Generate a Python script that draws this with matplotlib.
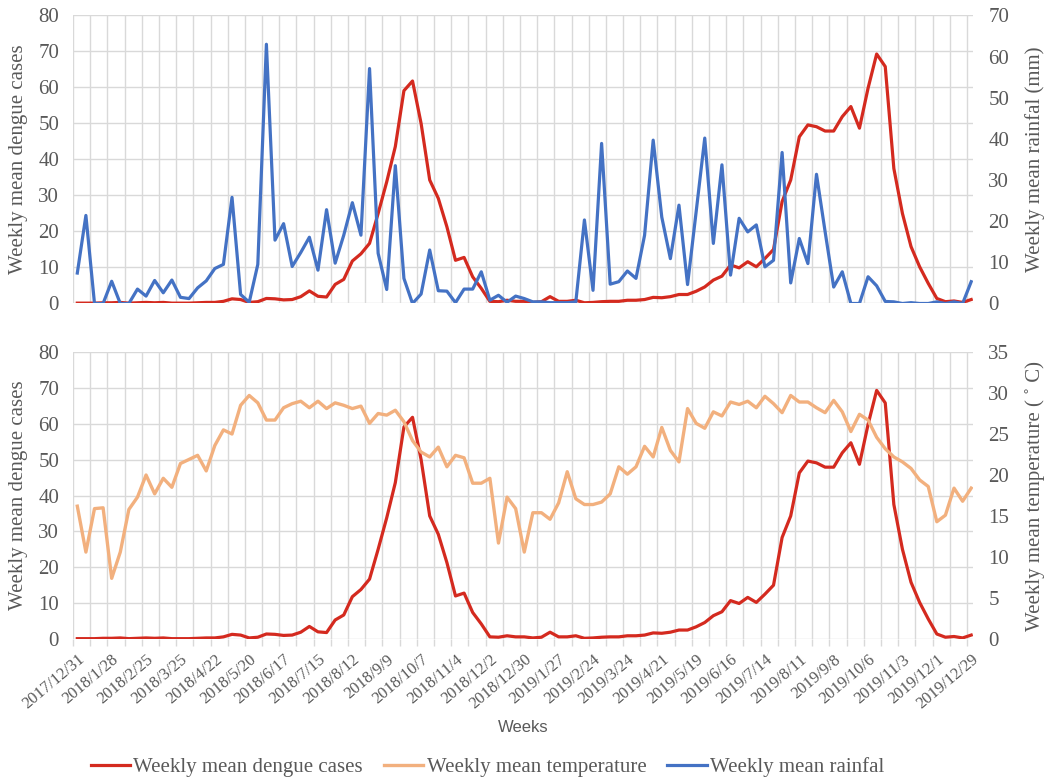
import numpy as np
import pandas as pd
import matplotlib
matplotlib.use("Agg")
import matplotlib.pyplot as plt

# weekly data, 2017/12/31 - 2019/12/29 (105 weeks)
dengue_cases = [
    0.1, 0.1, 0.1, 0.2, 0.2, 0.3, 0.1, 0.2, 0.3, 0.2,
    0.3, 0.1, 0.1, 0.1, 0.2, 0.3, 0.3, 0.6, 1.3, 1.1,
    0.3, 0.5, 1.4, 1.3, 1.0, 1.1, 1.9, 3.5, 2.0, 1.8,
    5.3, 6.7, 11.8, 13.8, 16.7, 25.0, 33.8, 43.6, 59.1, 61.8,
    50.0, 34.3, 29.2, 21.3, 12.0, 12.8, 7.4, 4.2, 0.6, 0.5,
    0.9, 0.6, 0.6, 0.3, 0.5, 1.9, 0.6, 0.6, 0.9, 0.2,
    0.3, 0.5, 0.6, 0.6, 0.9, 0.9, 1.1, 1.7, 1.6, 1.9,
    2.5, 2.5, 3.4, 4.6, 6.5, 7.6, 10.7, 9.9, 11.6, 10.2,
    12.5, 15.0, 28.3, 34.3, 46.3, 49.6, 49.1, 47.9, 47.9, 51.9,
    54.7, 48.7, 59.8, 69.3, 65.8, 37.5, 25.0, 15.8, 10.2, 5.6,
    1.4, 0.5, 0.7, 0.3, 1.1,
]

rainfall_mm = [
    7.4, 21.4, 0.0, 0.0, 5.4, 0.0, 0.0, 3.5, 1.8, 5.6,
    2.6, 5.7, 1.5, 1.2, 3.8, 5.5, 8.5, 9.5, 25.8, 2.2,
    0.3, 9.5, 63.0, 15.4, 19.4, 9.0, 12.4, 16.1, 8.1, 22.8,
    9.8, 16.6, 24.5, 16.6, 57.1, 12.2, 3.4, 33.5, 6.1, 0.0,
    2.3, 13.0, 3.1, 3.0, 0.2, 3.5, 3.5, 7.7, 0.8, 2.0,
    0.3, 1.8, 1.2, 0.4, 0.4, 0.2, 0.2, 0.2, 0.4, 20.3,
    3.2, 38.9, 4.7, 5.3, 7.9, 6.1, 16.6, 39.7, 21.0, 10.9,
    23.9, 4.6, 22.3, 40.2, 14.6, 33.7, 6.9, 20.7, 17.4, 19.1,
    8.9, 10.5, 36.7, 5.0, 15.8, 9.7, 31.4, 17.5, 4.0, 7.7,
    0.0, 0.0, 6.5, 4.3, 0.5, 0.4, 0.0, 0.2, 0.0, 0.0,
    0.4, 0.0, 0.4, 0.0, 5.3,
]

temperature_c = [
    16.2, 10.6, 15.9, 16.0, 7.4, 10.6, 15.8, 17.3, 20.0, 17.7,
    19.6, 18.5, 21.4, 21.9, 22.4, 20.5, 23.6, 25.5, 25.0, 28.5,
    29.7, 28.8, 26.7, 26.7, 28.2, 28.7, 29.0, 28.2, 29.0, 28.1,
    28.8, 28.5, 28.1, 28.4, 26.3, 27.5, 27.3, 27.9, 26.5, 24.2,
    22.8, 22.2, 23.4, 21.0, 22.4, 22.1, 19.0, 19.0, 19.6, 11.7,
    17.3, 15.9, 10.6, 15.4, 15.4, 14.6, 16.6, 20.4, 17.1, 16.4,
    16.4, 16.7, 17.7, 21.0, 20.1, 21.0, 23.5, 22.2, 25.8, 23.0,
    21.6, 28.1, 26.3, 25.7, 27.7, 27.2, 28.9, 28.6, 29.0, 28.2,
    29.6, 28.7, 27.6, 29.7, 28.9, 28.9, 28.2, 27.6, 29.1, 27.7,
    25.3, 27.4, 26.7, 24.6, 23.2, 22.2, 21.6, 20.8, 19.4, 18.6,
    14.3, 15.1, 18.4, 16.8, 18.4,
]

tick_labels = [
    "2017/12/31", "2018/1/28", "2018/2/25", "2018/3/25", "2018/4/22",
    "2018/5/20", "2018/6/17", "2018/7/15", "2018/8/12", "2018/9/9",
    "2018/10/7", "2018/11/4", "2018/12/2", "2018/12/30", "2019/1/27",
    "2019/2/24", "2019/3/24", "2019/4/21", "2019/5/19", "2019/6/16",
    "2019/7/14", "2019/8/11", "2019/9/8", "2019/10/6", "2019/11/3",
    "2019/12/1", "2019/12/29",
]

RED = "#d42a1f"
ORANGE = "#f2b07e"
BLUE = "#4472c4"
GRID = "#d9d9d9"
TXT = "#595959"
SERIF = "Liberation Serif"

plt.rcParams["font.family"] = SERIF
plt.rcParams["font.size"] = 15

weeks = np.arange(len(dengue_cases))
tick_pos = np.arange(0, len(weeks), 4)
grid_pos = np.arange(-0.5, len(weeks), 2)

fig = plt.figure(figsize=(10.55, 7.81), dpi=100)
ax1 = fig.add_axes([0.0692, 0.6114, 0.853, 0.3688])
ax2 = fig.add_axes([0.0692, 0.1818, 0.853, 0.3675])


def style_axis(ax, show_labels):
    ax.set_xlim(-0.5, 104.2)
    ax.set_ylim(0, 80)
    ax.set_yticks(np.arange(0, 81, 10))
    ax.set_xticks(tick_pos)
    ax.set_xticks(grid_pos, minor=True)
    ax.grid(True, which="minor", axis="x", color=GRID, lw=1)
    ax.grid(True, which="major", axis="y", color=GRID, lw=1)
    ax.set_axisbelow(True)
    for s in ax.spines.values():
        s.set_visible(False)
    ax.tick_params(axis="y", length=0, pad=10, colors=TXT, labelsize=15)
    ax.tick_params(axis="x", which="major", length=0)
    if show_labels:
        ax.tick_params(axis="x", which="minor", length=5, color=GRID, width=1)
        ax.set_xticklabels(tick_labels, rotation=40, ha="right", va="top",
                           rotation_mode="anchor", fontsize=12, color=TXT)
        ax.tick_params(axis="x", which="major", pad=9)
    else:
        ax.tick_params(axis="x", which="minor", length=0)
        ax.set_xticklabels([])
    ax.set_ylabel("Weekly mean dengue cases", color=TXT, fontsize=15)
    # the label's anchor is its right edge on screen
    ax.yaxis.set_label_coords(-0.05, 0.5)


def style_twin(ax, top, step, label):
    ax.set_ylim(0, top)
    ax.set_yticks(np.arange(0, top + 1, step))
    for s in ax.spines.values():
        s.set_visible(False)
    ax.tick_params(axis="y", length=0, pad=11, colors=TXT, labelsize=15)
    ax.set_ylabel(label, color=TXT, fontsize=15, rotation=90)
    # anchor is the left edge on screen
    ax.yaxis.set_label_coords(1.058, 0.5)


# top panel: dengue + rainfall
style_axis(ax1, False)
ln1, = ax1.plot(weeks, dengue_cases, color=RED, lw=2.3,
                label="Weekly mean dengue cases")
ax1r = ax1.twinx()
ln3, = ax1r.plot(weeks, rainfall_mm, color=BLUE, lw=2.3,
                 label="Weekly mean rainfal")
style_twin(ax1r, 70, 10, "Weekly mean rainfal (mm)")

# bottom panel: dengue + temperature
style_axis(ax2, True)
ax2.plot(weeks, dengue_cases, color=RED, lw=2.3)
ax2r = ax2.twinx()
ln2, = ax2r.plot(weeks, temperature_c, color=ORANGE, lw=2.4,
                 label="Weekly mean temperature")
style_twin(ax2r, 35, 5, "Weekly mean temperature ( \u02da C)")

fig.text(523 / 1055, 1 - 727 / 781, "Weeks", ha="center", va="center",
         family="Liberation Sans", fontsize=12, color=TXT)

fig.legend(handles=[ln1, ln2, ln3], loc="center", ncol=3,
           bbox_to_anchor=(0.462, 0.018), frameon=False, fontsize=15,
           handlelength=1.9, handletextpad=0.15, columnspacing=1.0,
           labelcolor=TXT)

fig.savefig("out.png", dpi=100, facecolor="white")
